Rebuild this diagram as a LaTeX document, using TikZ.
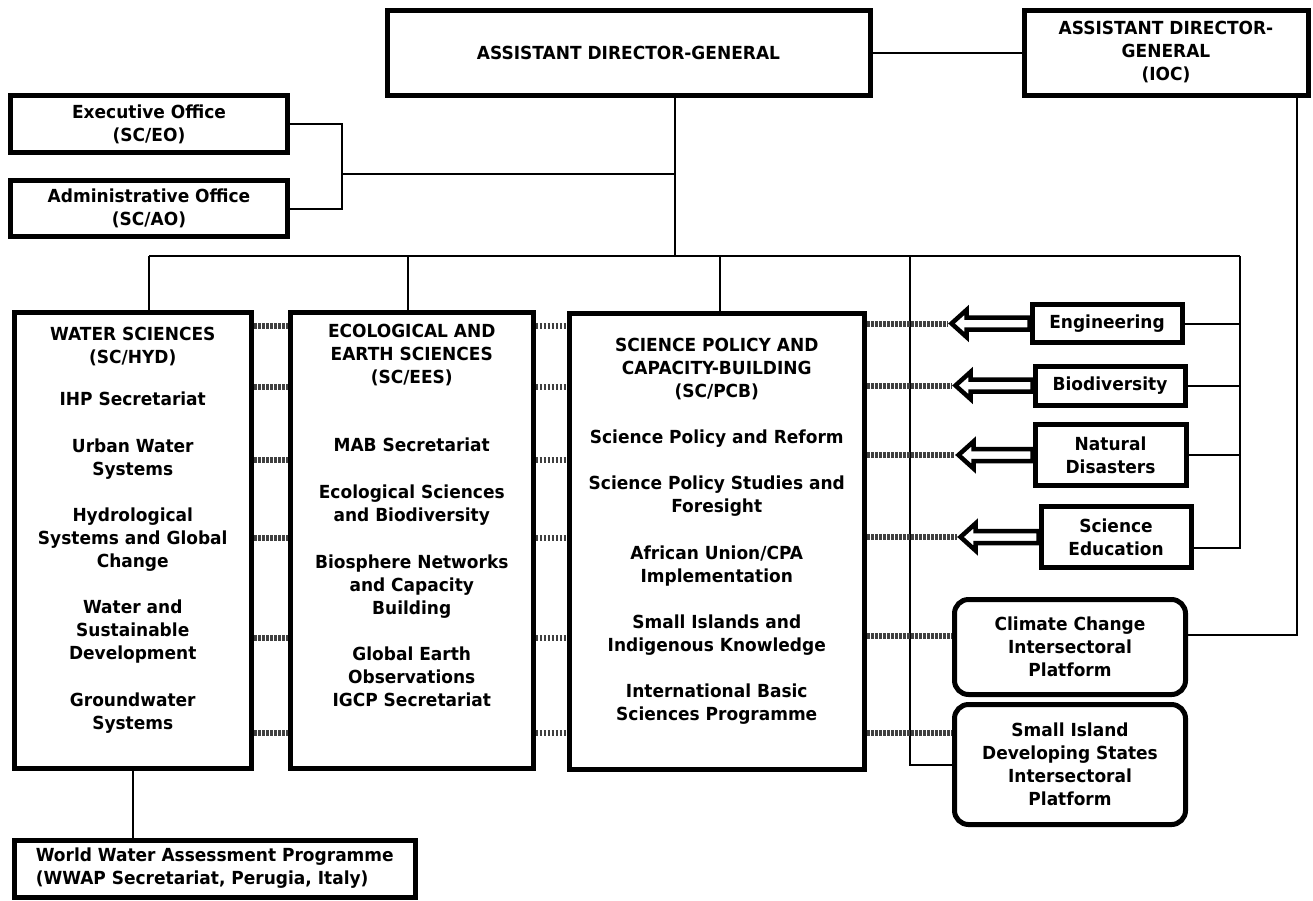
\documentclass[tikz,border=0pt]{standalone}
\usepackage{fontspec}
\setmainfont{DejaVu Sans}[BoldFeatures={FakeStretch=0.945}]
\usetikzlibrary{calc}

\begin{document}
\begin{tikzpicture}[x=1pt, y=-1pt,
        every node/.style={font=\fontsize{18}{23}\selectfont\bfseries, align=center, inner sep=0pt},
        box/.style={draw, line width=5pt},
        roundbox/.style={draw, line width=5pt, rounded corners=14pt},
        link/.style={line width=2pt},
        dotlink/.style={line width=6pt, black!75, dash pattern=on 2.5pt off 1.5pt},
        hollowarrow/.style={draw, fill=white, line width=4.5pt, line join=miter}]
        \useasboundingbox (0,0) rectangle (1313,900);
        % top level
        \node[box, minimum width=483pt, minimum height=85pt] (adg) at (628.5,52.5) {ASSISTANT DIRECTOR-GENERAL};
        \node[box, minimum width=284pt, minimum height=85pt] (adg_ioc) at (1166,52.5) {ASSISTANT DIRECTOR-\\GENERAL\\(IOC)};
        \node[box, minimum width=277pt, minimum height=57pt] (exec_off) at (149,124) {Executive Office\\(SC/EO)};
        \node[box, minimum width=277pt, minimum height=56pt] (admin_off) at (149,208.5) {Administrative Office\\(SC/AO)};
        % divisions
        \node[box, minimum width=237.5pt, minimum height=456pt] (water) at (132.75,540.5) {};
        \node (water_txt) at (132.75,530) {WATER SCIENCES\\(SC/HYD)\\[19pt] IHP Secretariat\\[24pt] Urban Water\\Systems\\[23pt] Hydrological\\Systems and Global\\Change\\[23pt] Water and\\Sustainable\\Development\\[24pt] Groundwater\\Systems};
        \node[box, minimum width=242.5pt, minimum height=455.5pt] (eco) at (411.75,540.25) {};
        \node (eco_txt) at (411.75,515) {ECOLOGICAL AND\\EARTH SCIENCES\\(SC/EES)\\[45pt] MAB Secretariat\\[24pt] Ecological Sciences\\and Biodiversity\\[24pt] Biosphere Networks\\and Capacity\\Building\\[23pt] Global Earth\\Observations\\IGCP Secretariat};
        \node[box, minimum width=295.5pt, minimum height=456.5pt] (spcb) at (716.75,541.25) {};
        \node (spcb_txt) at (716.75,531) {SCIENCE POLICY AND\\CAPACITY-BUILDING\\(SC/PCB)\\[23pt] Science Policy and Reform\\[23pt] Science Policy Studies and\\Foresight\\[24pt] African Union/CPA\\Implementation\\[23pt] Small Islands and\\Indigenous Knowledge\\[23pt] International Basic\\Sciences Programme};
        \node[box, minimum width=401.5pt, minimum height=57pt, align=left] (wwap) at (214.75,868.5) {World Water Assessment Programme\\(WWAP Secretariat, Perugia, Italy)};
        % intersectoral
        \node[box, minimum width=150pt, minimum height=38pt] (eng) at (1107,323.5) {Engineering};
        \node[box, minimum width=150pt, minimum height=39pt] (bio) at (1110,385.5) {Biodiversity};
        \node[box, minimum width=151pt, minimum height=61pt] (natdis) at (1110.5,455) {Natural\\Disasters};
        \node[box, minimum width=150pt, minimum height=61.5pt] (sciedu) at (1116,537) {Science\\Education};
        \node[roundbox, minimum width=231pt, minimum height=95pt] (cc) at (1070,647) {Climate Change\\Intersectoral\\Platform};
        \node[roundbox, minimum width=231pt, minimum height=120pt] (sids) at (1070,764.5) {Small Island\\Developing States\\Intersectoral\\Platform};
        % lines
        \coordinate (bus_l) at (149,256);
        \coordinate (bus_m) at (910,256);
        \coordinate (bus_r) at (1240,256);
        \coordinate (adg_drop) at (675,256);
        \coordinate (office_brk) at (342,174);
        \draw[link] (bus_l) -- (bus_r);
        \draw[link] (adg.south -| adg_drop) -- (adg_drop);
        \draw[link] (exec_off.east) -| (office_brk) |- (admin_off.east);
        \draw[link] (office_brk) -- (office_brk -| adg_drop);
        \draw[link] (adg.east) -- (adg_ioc.west);
        \draw[link] (bus_l) -- (bus_l |- water.north);
        \draw[link] ([xshift=-4pt]eco.north) -- ([xshift=-4pt]eco.north |- bus_l);
        \draw[link] ([xshift=3pt]spcb.north) -- ([xshift=3pt]spcb.north |- bus_l);
        \draw[link] (bus_m) |- (sids.west);
        \draw[link] (bus_r) |- ([yshift=-11pt]sciedu.east);
        \foreach \b in {eng,bio,natdis}
            \draw[link] (\b.east) -- (\b.east -| bus_r);
        \draw[link] (adg_ioc.south -| 1297,0) |- ([yshift=12pt]cc.east);
        \draw[link] (water.south) -- (water.south |- wwap.north);
        % dotted links
        \foreach \y in {326,387,460,538,638,733}{
            \draw[dotlink] (water.east |- 0,\y) -- (eco.west |- 0,\y);
            \draw[dotlink] (eco.east |- 0,\y) -- (spcb.west |- 0,\y);
        }
        \draw[dotlink] (spcb.east |- 0,636) -- (cc.west |- 0,636);
        \draw[dotlink] (spcb.east |- 0,733) -- (sids.west |- 0,733);
        \foreach \b/\t in {eng/948, bio/952, natdis/955, sciedu/957}{
            \coordinate (\b_tip) at (\b.west -| \t,0);
            \draw[dotlink] (spcb.east |- \b_tip) -- (\b_tip);
            \draw[hollowarrow] ($(\b_tip)+(3.5,0)$) -- ++(15,-13.5) -- ++(0,7.5) -- ($(\b.west)+(0,-6)$)
                -- ($(\b.west)+(0,6)$) -- ($(\b_tip)+(18.5,6)$) -- ++(0,7.5) -- cycle;
        }
\end{tikzpicture}
\end{document}
